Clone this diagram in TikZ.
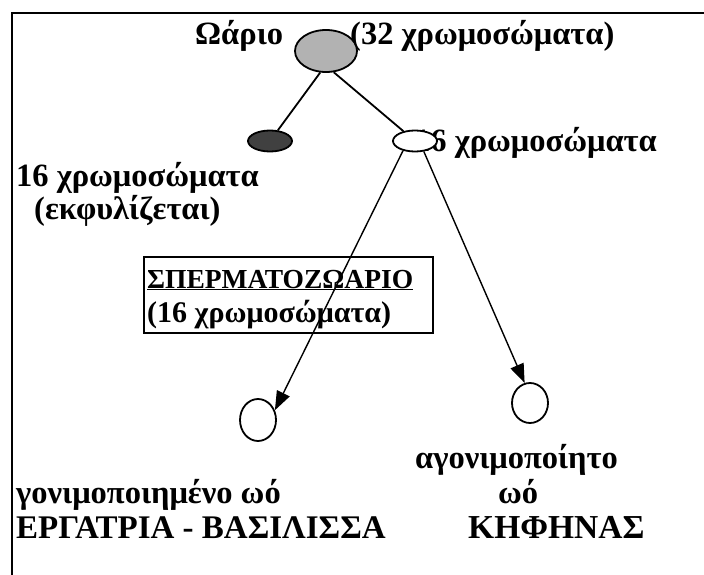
\documentclass[tikz,border=0pt]{standalone}
\usepackage{fontspec}
\setmainfont{Liberation Serif}
\usetikzlibrary{arrows.meta,shapes.geometric}

\tikzset{
  lbl/.style={inner sep=0pt, anchor=base west, font=\fontsize{32.5}{32}\selectfont\bfseries},
  boxlbl/.style={lbl, font=\fontsize{28}{28}\selectfont\bfseries},
  cell/.style={draw, ellipse, line width=1.8pt, inner sep=0pt},
  link/.style={line width=1.8pt},
  arr/.style={line width=1.4pt, -{Triangle[length=19pt,width=14pt]}}
}

\begin{document}
\begin{tikzpicture}[x=1pt,y=-1pt]
  \useasboundingbox (0,0) rectangle (704,575);
  % frame
  \draw[line width=1.7pt] (12,575) -- (12,13) -- (704,13);

  % ovum and first division
  \node[lbl] (ovumtxt) at (195,45) {Ωάριο};
  \node[lbl] (ovumnum) at (350,45) {(32 χρωμοσώματα)};
  \node[cell, fill=black!30, minimum width=62pt, minimum height=42pt] (ovum) at (326,51) {};

  \node[lbl] (polartxt) at (414,152) {16 χρωμοσώματα};
  \node[cell, fill=black!75, minimum width=44pt, minimum height=21pt] (polar) at (270,141) {};
  \node[cell, fill=white, minimum width=44pt, minimum height=21pt] (egg) at (415,141) {};
  \node[lbl] (leftnum) at (16,186) {16 χρωμοσώματα};
  \node[lbl] (leftdeg) at (34,219) {(εκφυλίζεται)};

  \draw[link] (ovum.-105) -- (polar);
  \draw[link] (ovum.-70) -- (egg);

  % sperm box
  \draw[line width=1.1pt] (144,257) rectangle (433,333);
  \node[boxlbl, font=\fontsize{27.5}{28}\selectfont\bfseries] (sperm) at (147,288) {\underline{ΣΠΕΡΜΑΤΟΖΩΑΡΙΟ}};
  \node[boxlbl, font=\fontsize{30}{28}\selectfont\bfseries] (spermnum) at (147,322) {(16 χρωμοσώματα)};

  % offspring
  \node[cell, minimum width=36pt, minimum height=42pt] (fert) at (258,420) {};
  \node[cell, minimum width=36pt, minimum height=40pt] (unfert) at (530,403) {};
  \draw[arr] (egg.-141) -- (fert.30);
  \draw[arr] (egg.-50) -- (unfert.105);

  \node[lbl] (unfert1) at (415,468) {αγονιμοποίητο};
  \node[lbl] (unfert2) at (498,503) {ωό};
  \node[lbl, font=\fontsize{33.5}{32}\selectfont\bfseries] (drone) at (468,538) {ΚΗΦΗΝΑΣ};
  \node[lbl] (fert1) at (16,503) {γονιμοποιημένο ωό};
  \node[lbl, font=\fontsize{33}{32}\selectfont\bfseries] (female) at (16,538) {ΕΡΓΑΤΡΙΑ - ΒΑΣΙΛΙΣΣΑ};
\end{tikzpicture}
\end{document}
